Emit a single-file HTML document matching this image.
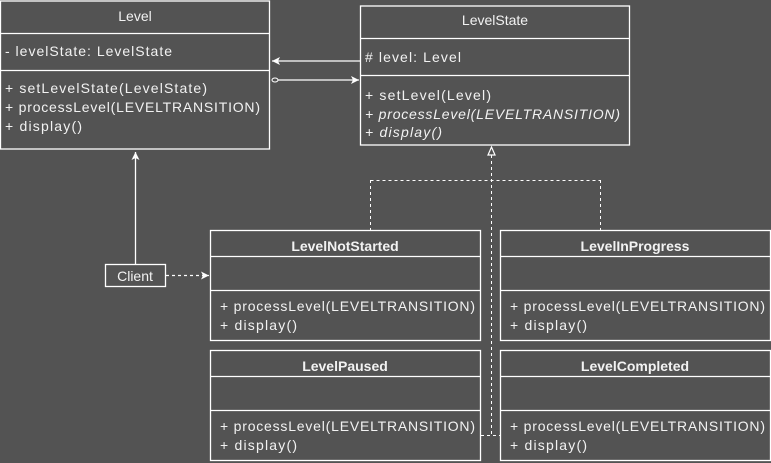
<!DOCTYPE html>
<html><head><style>
html,body{margin:0;padding:0;background:#535353;}
svg{display:block}
text{font-family:"Liberation Sans",sans-serif;fill:#f2f2f2;font-size:14px}
.b{font-weight:bold}
.i{font-style:italic}
</style></head><body>
<svg width="771" height="463" viewBox="0 0 771 463" xmlns="http://www.w3.org/2000/svg">
<defs>
<marker id="ao" markerWidth="10" markerHeight="10" refX="9" refY="5" orient="auto" markerUnits="userSpaceOnUse"><path d="M1,1 L9,5 L1,9 L3,5 Z" fill="#fff"/></marker>
</defs>
<g fill="none" stroke="#fff" stroke-width="1.3">
<!-- Level -->
<rect x="0.5" y="1" width="269" height="148"/>
<line x1="0" y1="33.5" x2="270" y2="33.5"/>
<line x1="0" y1="70.5" x2="270" y2="70.5"/>
<!-- LevelState -->
<rect x="360.5" y="6" width="269" height="139"/>
<line x1="360" y1="38.5" x2="630" y2="38.5"/>
<line x1="360" y1="75.5" x2="630" y2="75.5"/>
<!-- subclasses -->
<rect x="210.5" y="230.5" width="270" height="110"/>
<line x1="210" y1="256.5" x2="481" y2="256.5"/><line x1="210" y1="290.5" x2="481" y2="290.5"/>
<rect x="500.5" y="230.5" width="270" height="110"/>
<line x1="500" y1="256.5" x2="771" y2="256.5"/><line x1="500" y1="290.5" x2="771" y2="290.5"/>
<rect x="210.5" y="350.5" width="270" height="110"/>
<line x1="210" y1="376.5" x2="481" y2="376.5"/><line x1="210" y1="410.5" x2="481" y2="410.5"/>
<rect x="500.5" y="350.5" width="270" height="110"/>
<line x1="500" y1="376.5" x2="771" y2="376.5"/><line x1="500" y1="410.5" x2="771" y2="410.5"/>
<!-- Client -->
<rect x="105.5" y="264.5" width="60" height="22"/>
<!-- associations -->
<line x1="360" y1="61" x2="272" y2="61" marker-end="url(#ao)"/>
<line x1="277" y1="80" x2="359" y2="80" marker-end="url(#ao)"/>
<line x1="135.5" y1="264" x2="135.5" y2="152" marker-end="url(#ao)"/>
<line x1="166" y1="275.5" x2="209" y2="275.5" stroke-dasharray="3,3" marker-end="url(#ao)"/>
<!-- realization -->
<g stroke-dasharray="3,3" stroke-width="1">
<line x1="491.5" y1="155" x2="491.5" y2="435"/>
<line x1="481" y1="435.5" x2="500" y2="435.5"/>
<line x1="370.5" y1="180.5" x2="600.5" y2="180.5"/>
<line x1="370.5" y1="180" x2="370.5" y2="230"/>
<line x1="600.5" y1="180" x2="600.5" y2="230"/>
</g>
</g>
<ellipse cx="275" cy="80" rx="3" ry="2" fill="#535353" stroke="#fff" stroke-width="1"/>
<path d="M491.5,147 L495,155 L488,155 Z" fill="#535353" stroke="#fff" stroke-width="1.2"/>

<text x="135" y="21" text-anchor="middle">Level</text>
<text x="5" y="56" textLength="167">- levelState: LevelState</text>
<text x="5" y="93" textLength="202">+ setLevelState(LevelState)</text>
<text x="5" y="112" textLength="255">+ processLevel(LEVELTRANSITION)</text>
<text x="5" y="131" textLength="77">+ display()</text>

<text x="495" y="25" text-anchor="middle">LevelState</text>
<text x="365" y="62" textLength="96"># level: Level</text>
<text x="365" y="100" textLength="126">+ setLevel(Level)</text>
<text x="365" y="119" textLength="255" class="i">+ processLevel(LEVELTRANSITION)</text>
<text x="365" y="137" textLength="77" class="i">+ display()</text>

<text x="135" y="281" text-anchor="middle">Client</text>

<text x="345" y="251" text-anchor="middle" class="b">LevelNotStarted</text>
<text x="220" y="311" textLength="255">+ processLevel(LEVELTRANSITION)</text>
<text x="220" y="330" textLength="77">+ display()</text>

<text x="635" y="251" text-anchor="middle" class="b">LevelInProgress</text>
<text x="510" y="311" textLength="255">+ processLevel(LEVELTRANSITION)</text>
<text x="510" y="330" textLength="77">+ display()</text>

<text x="345" y="371" text-anchor="middle" class="b">LevelPaused</text>
<text x="220" y="431" textLength="255">+ processLevel(LEVELTRANSITION)</text>
<text x="220" y="450" textLength="77">+ display()</text>

<text x="635" y="371" text-anchor="middle" class="b">LevelCompleted</text>
<text x="510" y="431" textLength="255">+ processLevel(LEVELTRANSITION)</text>
<text x="510" y="450" textLength="77">+ display()</text>
</svg>
</body></html>
